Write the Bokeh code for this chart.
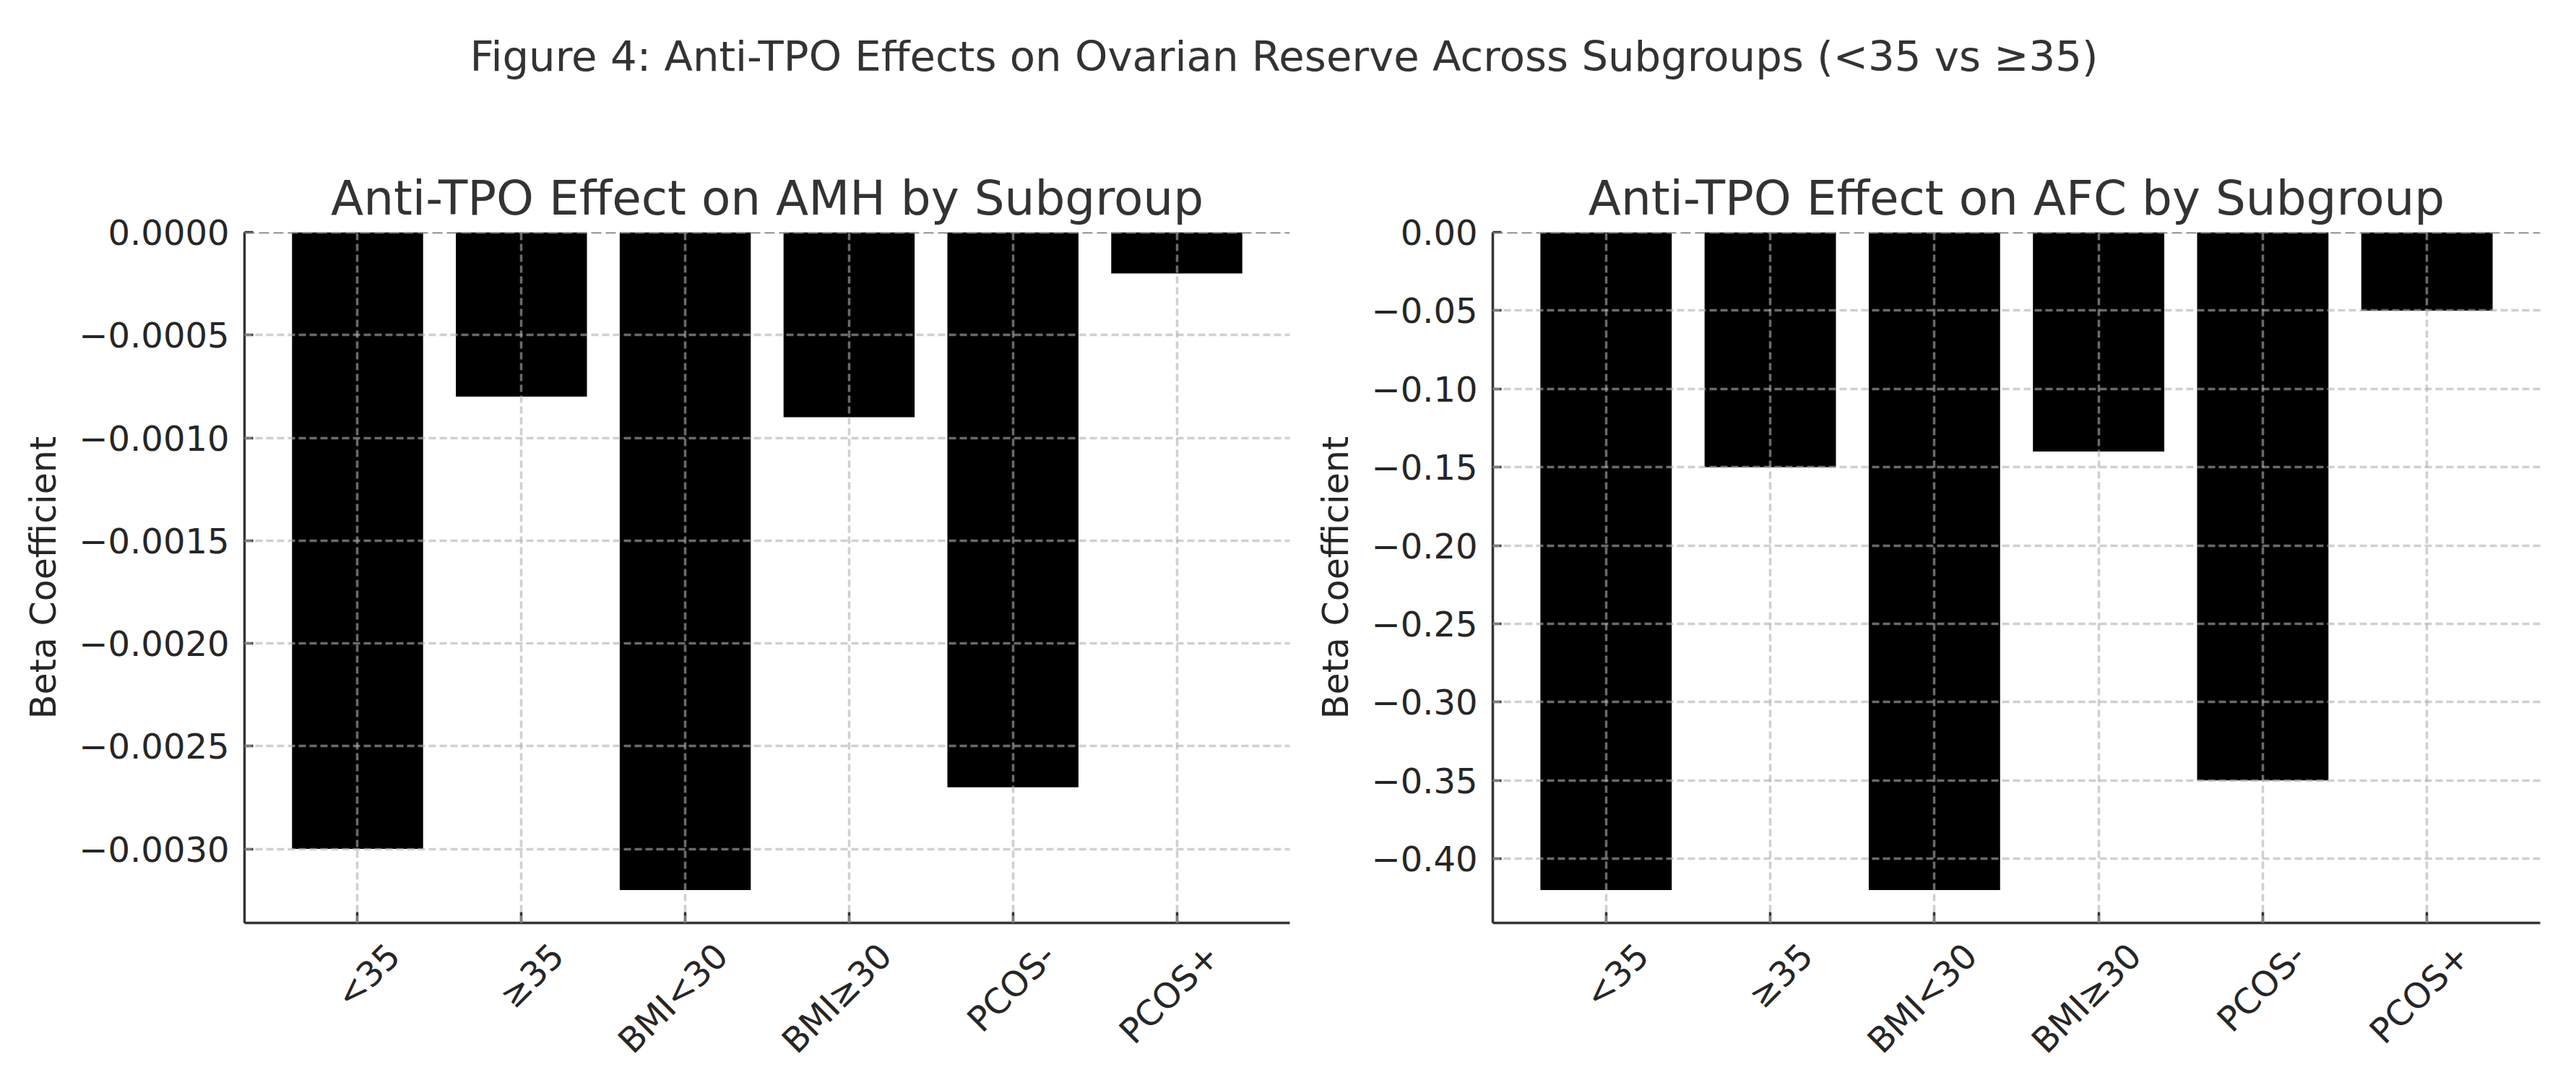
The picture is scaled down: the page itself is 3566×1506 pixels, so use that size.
import math
from bokeh.plotting import figure
from bokeh.models import (ColumnDataSource, Range1d, LinearAxis, FixedTicker,
                          SingleIntervalTicker, CustomJSTickFormatter, Span)
from bokeh.layouts import column, row
from bokeh.embed import file_html
from bokeh.resources import INLINE

# ---------------- data ----------------
categories = ["<35", "≥35", "BMI<30", "BMI≥30", "PCOS-", "PCOS+"]
amh_beta = [-0.0030, -0.0008, -0.0032, -0.0009, -0.0027, -0.0002]
afc_beta = [-0.42, -0.15, -0.42, -0.14, -0.35, -0.05]
suptitle_text = "Figure 4: Anti-TPO Effects on Ovarian Reserve Across Subgroups (<35 vs ≥35)"
amh_title = "Anti-TPO Effect on AMH by Subgroup"
afc_title = "Anti-TPO Effect on AFC by Subgroup"
y_label = "Beta Coefficient"
amh_tick_step = 0.0005
afc_tick_step = 0.05

FONT = "DejaVu Sans"
TEXT = "#262626"
TITLE = "#333333"
SPINE = "#333333"
BAR_W = 0.8
LABEL_SHIFT = 0.22


def make_panel(values, title, step, decimals, border_left, border_right, frame_w):
    n = len(categories)
    idx = list(range(n))
    span_x = (n - 1) + BAR_W
    x0 = -BAR_W / 2 - 0.05 * span_x
    x1 = (n - 1) + BAR_W / 2 + 0.05 * span_x
    lo = min(values)
    ymin = lo - 0.05 * (0 - lo)

    src = ColumnDataSource(dict(x=idx, v=values, cat=categories))
    p = figure(frame_width=frame_w, frame_height=956,
               x_range=Range1d(x0, x1), y_range=Range1d(ymin, 0),
               output_backend="svg", toolbar_location=None,
               min_border_left=border_left, min_border_right=border_right,
               min_border_top=163, min_border_bottom=170)
    p.outline_line_color = None
    p.background_fill_color = "white"
    p.border_fill_color = "white"

    p.title.text = title
    p.title.text_font = FONT
    p.title.text_font_size = "66px"
    p.title.text_font_style = "normal"
    p.title.text_color = TITLE
    p.title.align = "center"
    p.title.standoff = 17

    p.vbar(x="x", top=0, bottom="v", width=BAR_W, source=src,
           fill_color="black", line_color=None)

    # x axis: ticks only
    xt = FixedTicker(ticks=idx)
    xa = p.xaxis[0]
    xa.ticker = xt
    xa.formatter = CustomJSTickFormatter(code="return '';")
    xa.major_label_standoff = 0
    xa.major_label_text_font_size = "1px"
    xa.major_tick_in = 15
    xa.major_tick_out = 0
    xa.minor_tick_line_color = None
    xa.axis_line_color = SPINE
    xa.axis_line_width = 3.5
    xa.major_tick_line_color = SPINE
    xa.major_tick_line_width = 3.5
    p.xgrid.ticker = xt

    # category labels (centered under ticks, rotated 45 deg)
    p.extra_x_ranges = {"labels": Range1d(x0 - LABEL_SHIFT, x1 - LABEL_SHIFT)}
    la = LinearAxis(x_range_name="labels", ticker=FixedTicker(ticks=idx),
                    formatter=CustomJSTickFormatter(args=dict(cats=categories), code="""
                        const i = Math.round(tick);
                        return (i >= 0 && i < cats.length) ? cats[i] : '';
                    """))
    la.major_label_orientation = math.pi / 4
    la.major_label_text_font = FONT
    la.major_label_text_font_size = "48px"
    la.major_label_text_color = TEXT
    la.major_label_standoff = 31
    la.axis_line_color = None
    la.major_tick_line_color = None
    la.minor_tick_line_color = None
    p.add_layout(la, "below")

    # y axis
    ya = p.yaxis[0]
    ya.ticker = SingleIntervalTicker(interval=step, num_minor_ticks=0)
    ya.formatter = CustomJSTickFormatter(args=dict(d=decimals), code="""
        const s = Math.abs(tick).toFixed(d);
        return (tick < 0 && parseFloat(s) !== 0) ? '\u2212' + s : s;
    """)
    ya.major_label_text_font = FONT
    ya.major_label_text_font_size = "48px"
    ya.major_label_text_color = TEXT
    ya.major_label_standoff = 21
    ya.major_tick_in = 12
    ya.major_tick_out = 0
    ya.minor_tick_line_color = None
    ya.axis_line_color = SPINE
    ya.axis_line_width = 3.5
    ya.major_tick_line_color = SPINE
    ya.major_tick_line_width = 3.5
    ya.axis_label = y_label
    ya.axis_label_text_font = FONT
    ya.axis_label_text_font_size = "49px"
    ya.axis_label_text_font_style = "normal"
    ya.axis_label_text_color = TEXT
    ya.axis_label_standoff = 17
    p.ygrid.ticker = ya.ticker

    for g in (p.xgrid[0], p.ygrid[0]):
        g.grid_line_color = "#b0b0b0"
        g.grid_line_alpha = 0.6
        g.grid_line_dash = "10 5"
        g.grid_line_width = 3.5
        g.level = "guide"

    p.add_layout(Span(location=0, dimension="width", line_color="#808080",
                      line_dash="14 6", line_width=3.5))
    return p


p_amh = make_panel(amh_beta, amh_title, amh_tick_step, 4, 338, 33, 1447)
p_afc = make_panel(afc_beta, afc_title, afc_tick_step, 2, 245, 40, 1450)

head = figure(width=3554, height=158, output_backend="svg", toolbar_location=None,
              x_axis_location=None, y_axis_location=None,
              min_border_left=0, min_border_right=0, min_border_bottom=0,
              min_border_top=116)
head.outline_line_color = None
head.grid.visible = False
head.title.text = suptitle_text
head.title.text_font = FONT
head.title.text_font_size = "57.7px"
head.title.text_font_style = "normal"
head.title.text_color = TITLE
head.title.align = "center"
head.title.standoff = 10

layout = column(head, row(p_amh, p_afc))

open("out.html", "w").write(file_html(layout, INLINE))
